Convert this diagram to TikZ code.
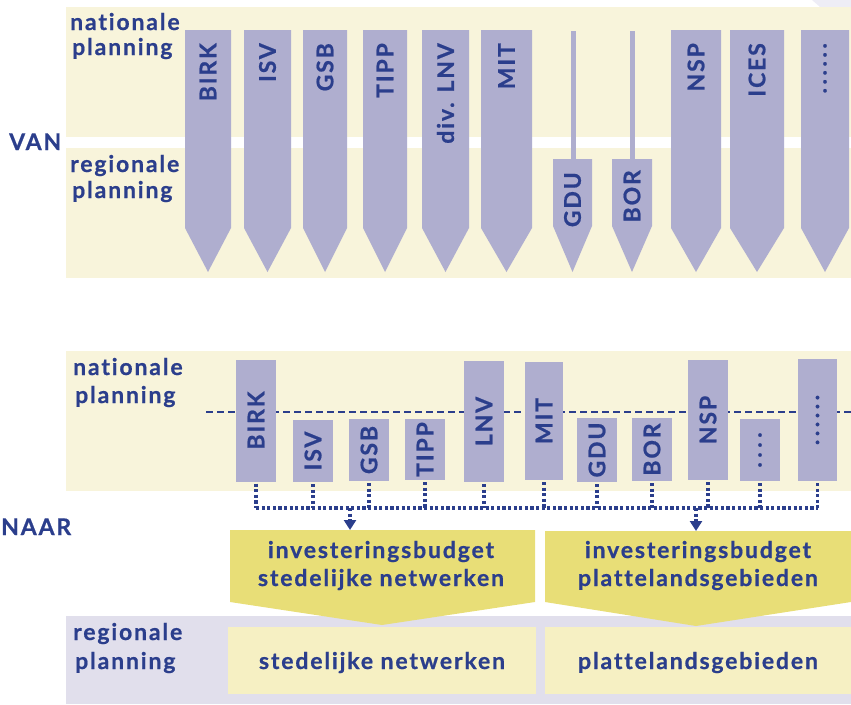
\documentclass[tikz,border=0pt]{standalone}
\usepackage{fontspec}
\newfontfamily\lbl{Lato}[LetterSpace=8, Ligatures={NoCommon}, BoldFeatures={FakeBold=0.7}]
\usetikzlibrary{arrows.meta}
\definecolor{cream}{HTML}{F8F4DB}
\definecolor{lav}{HTML}{AFAECF}
\definecolor{dblue}{HTML}{2B3E8C}
\definecolor{yel}{HTML}{E8DE77}
\definecolor{lyel}{HTML}{F6F0C3}
\definecolor{band}{HTML}{E1DFEC}
\definecolor{corner}{HTML}{EEEDF6}
\newcommand\myarrow[3]{% xl, xr, name
  \fill[lav] (#1,30) -- (#2,30) -- (#2,228) -- ({(#1+#2)/2},272) -- (#1,228) -- cycle;
  \coordinate (#3) at ({(#1+#2)/2},43);}
\begin{document}
\begin{tikzpicture}[x=1pt,y=-1pt,
  txt/.style={font=\lbl\bfseries\fontsize{23}{27}\selectfont, text=dblue, inner sep=0pt},
  vtxt/.style={txt, rotate=90, anchor=east},
  bbox/.style={fill=lav, inner sep=0pt, outer sep=0pt},
  dotline/.style={dblue, line width=3.2pt, dash pattern=on 3.2pt off 2.4pt},
  dashline/.style={dblue, line width=1.3pt, dash pattern=on 7pt off 4pt}]
\useasboundingbox (0,0) rectangle (851,704);
% corner
\fill[corner] (812,0) -- (851,0) -- (851,7) -- (820,7) -- cycle;
% ---------- VAN panel ----------
\fill[cream] (66,7) rectangle (851,278);
\fill[white] (66,137) rectangle (851,148);
\node[txt, anchor=base west] (vn1) at (70,30) {nationale};
\node[txt, anchor=base west] (vn2) at (72,55) {planning};
\node[txt, anchor=base west] (vr1) at (70,172) {regionale};
\node[txt, anchor=base west] (vr2) at (72,198) {planning};
\node[txt, anchor=base west] (van) at (9,150) {VAN};
\myarrow{185}{231}{a1}
\myarrow{244}{291}{a2}
\myarrow{303}{347}{a3}
\myarrow{363}{407}{a4}
\myarrow{422}{469}{a5}
\myarrow{481}{532}{a6}
\myarrow{671}{721}{a9}
\myarrow{730}{784}{a10}
\myarrow{801}{849}{a11}
\node[vtxt] at (a1) {BIRK};
\node[vtxt] at (a2) {ISV};
\node[vtxt] at (a3) {GSB};
\node[vtxt] at (a4) {TIPP};
\node[vtxt] at (a5) {div. LNV};
\node[vtxt] at (a6) {MIT};
\node[vtxt] at (a9) {NSP};
\node[vtxt] at (a10) {ICES};
\node[vtxt] at (a11) {.\kern3.5pt.\kern3.5pt.\kern3.5pt.\kern3.5pt.\kern3.5pt.};
% GDU and BOR
\fill[lav] (570.5,31) rectangle (575.5,160);
\fill[lav] (629.5,31) rectangle (634.5,160);
\fill[lav] (553,159) -- (592,159) -- (592,226) -- (572.5,272) -- (553,226) -- cycle;
\fill[lav] (612,159) -- (652,159) -- (652,226) -- (632,272) -- (612,226) -- cycle;
\node[vtxt] at (572.5,172) {GDU};
\node[vtxt] at (632,170) {BOR};
% ---------- NAAR panel ----------
\fill[cream] (66,351) rectangle (851,491);
\node[txt, anchor=base west] (nn1) at (73,375) {nationale};
\node[txt, anchor=base west] (nn2) at (75,403) {planning};
\node[txt, anchor=base west] (naar) at (1,535) {NAAR};
\draw[dashline] (206,412) -- (851,412);
% boxes
\node[bbox, minimum width=40pt, minimum height=122pt] (b1) at (256,420.5) {};
\node[bbox, minimum width=40pt, minimum height=62pt] (b2) at (313,451) {};
\node[bbox, minimum width=40pt, minimum height=62pt] (b3) at (369,450) {};
\node[bbox, minimum width=40pt, minimum height=61pt] (b4) at (425,449.5) {};
\node[bbox, minimum width=40pt, minimum height=121pt] (b5) at (484,421.5) {};
\node[bbox, minimum width=38pt, minimum height=118pt] (b6) at (544,421) {};
\node[bbox, minimum width=40pt, minimum height=64pt] (b7) at (597,450) {};
\node[bbox, minimum width=40pt, minimum height=63pt] (b8) at (652,449.5) {};
\node[bbox, minimum width=40pt, minimum height=120pt] (b9) at (708,420) {};
\node[bbox, minimum width=40pt, minimum height=62pt] (b10) at (760,450) {};
\node[bbox, minimum width=39pt, minimum height=122pt] (b11) at (817.5,420) {};
\node[txt, rotate=90] at (b1) {BIRK};
\node[txt, rotate=90] at (b2) {ISV};
\node[txt, rotate=90] at (b3) {GSB};
\node[txt, rotate=90] at (b4) {TIPP};
\node[txt, rotate=90] at (b5) {LNV};
\node[txt, rotate=90] at (b6) {MIT};
\node[txt, rotate=90] at (b7) {GDU};
\node[txt, rotate=90] at (b8) {BOR};
\node[txt, rotate=90] at (b9) {NSP};
\node[txt, rotate=90] at (b10) {.\kern4.5pt.\kern4.5pt.\kern4.5pt.};
\node[txt, rotate=90] at (b11) {.\kern3.5pt.\kern3.5pt.\kern3.5pt.\kern3.5pt.\kern3.5pt.};
% dotted connectors
\coordinate (hl) at (256,508);
\foreach \b in {b1,b2,b3,b4,b5,b6,b7,b8,b9,b10,b11}
  \draw[dotline] ([yshift=-2pt]\b.south) -- (\b.south |- hl);
\draw[dotline] (b1.south |- hl) -- (b11.south |- hl);
% budgets
\fill[band] (66,616) rectangle (851,704);
\fill[yel] (230,530) -- (535,530) -- (535,602) -- (382,625) -- (230,602) -- cycle;
\fill[yel] (545,531) -- (851,531) -- (851,602) -- (696,626) -- (545,602) -- cycle;
\coordinate (t1) at (350,530);
\coordinate (t2) at (696,531);
\draw[dotline, -{Triangle[length=10pt,width=12pt]}] (t1 |- hl) -- (t1);
\draw[dotline, -{Triangle[length=10pt,width=12pt]}] (t2 |- hl) -- (t2);
\node[txt, anchor=base] (i1a) at (381,558) {investeringsbudget};
\node[txt, anchor=base] (i1b) at (381,586) {stedelijke netwerken};
\node[txt, anchor=base] (i2a) at (698,558) {investeringsbudget};
\node[txt, anchor=base] (i2b) at (698,586) {plattelandsgebieden};
\fill[lyel] (228,627) rectangle (536,694);
\fill[lyel] (545,627) rectangle (851,694);
\node[txt, anchor=base west] (rr1) at (73,640) {regionale};
\node[txt, anchor=base west] (rr2) at (75,669) {planning};
\node[txt, anchor=base] (s1) at (382,669) {stedelijke netwerken};
\node[txt, anchor=base] (s2) at (698,669) {plattelandsgebieden};
\end{tikzpicture}
\end{document}
